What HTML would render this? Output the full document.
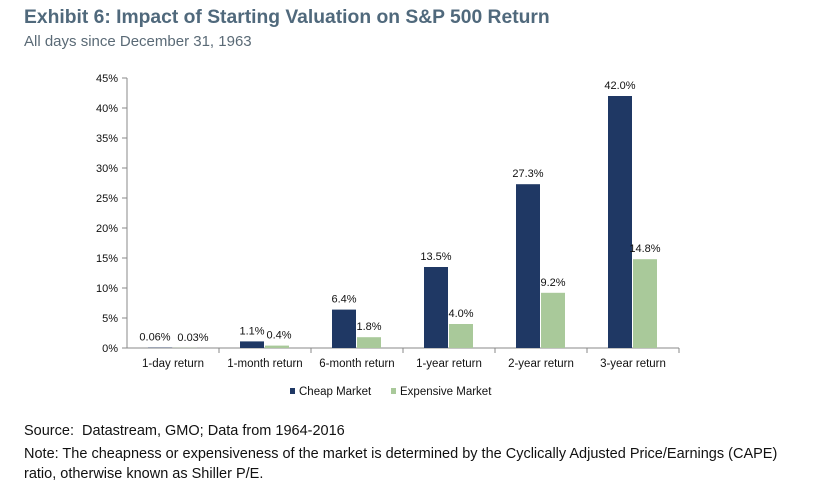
<!DOCTYPE html>
<html><head><meta charset="utf-8"><style>
body{margin:0;background:#fff;width:836px;height:492px;overflow:hidden;font-family:"Liberation Sans",sans-serif}
.t{position:absolute;left:24px;top:7px;font-size:19.3px;font-weight:bold;color:#50697c}
.s{position:absolute;left:24px;top:33px;font-size:15px;color:#5a6a76}
.f{position:absolute;left:24px;font-size:14.5px;color:#111}
</style></head><body>
<div class="t">Exhibit 6: Impact of Starting Valuation on S&amp;P 500 Return</div>
<div class="s">All days since December 31, 1963</div>
<svg id="c" width="836" height="492" style="position:absolute;left:0;top:0"></svg>
<div class="f" style="top:423px">Source:&nbsp; Datastream, GMO; Data from 1964-2016</div>
<div class="f" style="top:444px;width:780px;line-height:20px">Note: The cheapness or expensiveness of the market is determined by the Cyclically Adjusted Price/Earnings (CAPE) ratio, otherwise known as Shiller P/E.</div>
<script>
const categories=["1-day return","1-month return","6-month return","1-year return","2-year return","3-year return"];
const cheap=[0.06,1.1,6.4,13.5,27.3,42.0];
const expensive=[0.03,0.4,1.8,4.0,9.2,14.8];
const cheapLabels=["0.06%","1.1%","6.4%","13.5%","27.3%","42.0%"];
const expLabels=["0.03%","0.4%","1.8%","4.0%","9.2%","14.8%"];
const ticks=[0,5,10,15,20,25,30,35,40,45];
const NS="http://www.w3.org/2000/svg",svg=document.getElementById('c');
const x0=127,cw=92,y0=348,ppu=6;
const y=v=>y0-v*ppu, xc=i=>x0+i*cw;
function el(t,a,txt){const e=document.createElementNS(NS,t);for(const k in a)e.setAttribute(k,a[k]);if(txt!=null)e.textContent=txt;svg.appendChild(e);return e;}
let a=el('line',{x1:x0,y1:y(45),x2:x0,y2:y0,stroke:'#888'});

a=el('line',{x1:x0,y1:y0,x2:x0+cw*6,y2:y0,stroke:'#888'});

ticks.forEach(v=>{
 el('line',{x1:x0-5,y1:y(v),x2:x0,y2:y(v),stroke:'#888'});
 const t=el('text',{x:x0-9,y:y(v)+4,'text-anchor':'end','font-size':11,fill:'#111'},v+'%');
 
});
categories.forEach((c,i)=>{
 el('line',{x1:xc(i+1),y1:y0,x2:xc(i+1),y2:y0+5,stroke:'#888'});
 const t=el('text',{x:xc(i)+cw/2,y:y0+19,'text-anchor':'middle','font-size':11.5,fill:'#111'},c);
 
 const bx=xc(i)+21,bw=24;
 let r=el('rect',{x:bx,y:y(cheap[i]),width:bw,height:cheap[i]*ppu,fill:'#1f3864'});
 
 r=el('rect',{x:bx+25,y:y(expensive[i]),width:bw,height:expensive[i]*ppu,fill:'#a9c99a'});
 
 const sh1=i==0?-5:0, sh2=i==0?8:(i==1?2:0);
 let l=el('text',{x:bx+bw/2+sh1,y:y(cheap[i])-7,'text-anchor':'middle','font-size':11,fill:'#111'},cheapLabels[i]);
 
 l=el('text',{x:bx+25+bw/2+sh2,y:y(expensive[i])-7,'text-anchor':'middle','font-size':11,fill:'#111'},expLabels[i]);
 
});
let g=el('rect',{x:290,y:388,width:5,height:6,fill:'#1f3864'});

g=el('text',{x:299,y:395,'font-size':11.5,fill:'#111'},'Cheap Market');

g=el('rect',{x:391,y:388,width:5,height:6,fill:'#a9c99a'});

g=el('text',{x:400,y:395,'font-size':11.5,fill:'#111'},'Expensive Market');

</script>
</body></html>
